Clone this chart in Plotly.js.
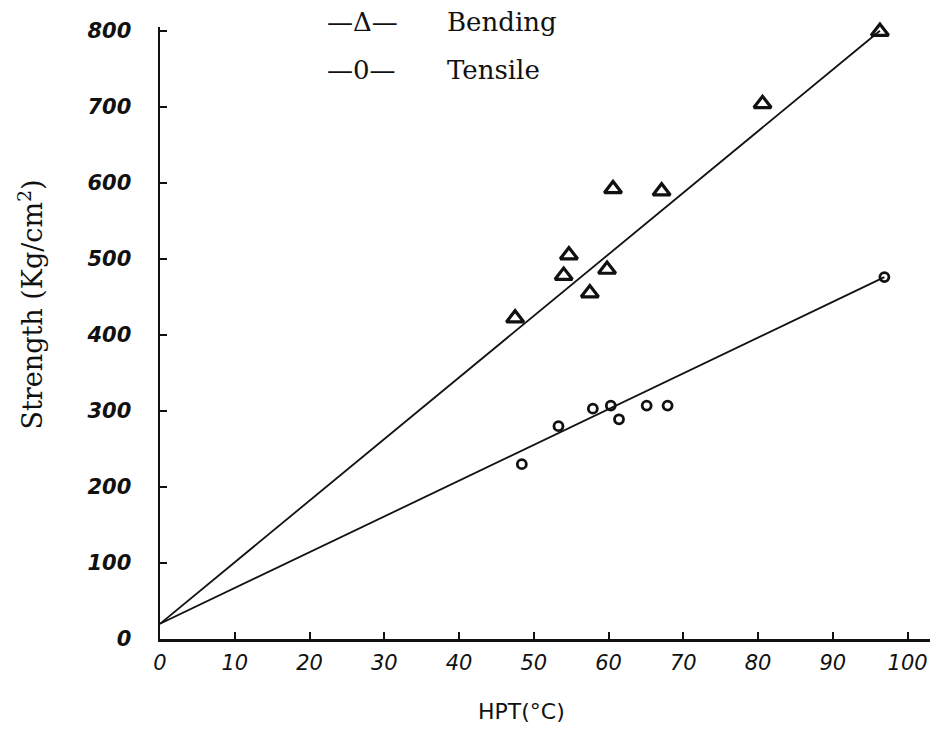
<!DOCTYPE html>
<html>
<head>
<meta charset="utf-8">
<script src="https://cdn.plot.ly/plotly-3.0.1.min.js"></script>
<style>html,body{margin:0;padding:0;background:#fff;}#chart{width:938px;height:729px;}</style>
</head>
<body>
<div id="chart"></div>
<script>
// Bending strength data (triangles)
const bendingX = [47.5, 54.0, 54.7, 57.5, 59.8, 60.6, 67.1, 80.6, 96.3];
const bendingY = [422, 478, 505, 455, 486, 592, 589, 704, 799];
// Tensile strength data (circles)
const tensileX = [48.4, 53.3, 57.9, 60.3, 61.4, 65.1, 67.9, 96.9];
const tensileY = [230, 280, 303, 307, 289, 307, 307, 476];
// Fitted lines
const bendingLineX = [0, 96.3];
const bendingLineY = [20, 800];
const tensileLineX = [0, 96.9];
const tensileLineY = [20, 476];
// Ticks
const xTicks = [0, 10, 20, 30, 40, 50, 60, 70, 80, 90, 100];
const yTicks = [0, 100, 200, 300, 400, 500, 600, 700, 800];

const traces = [
  {x: bendingLineX, y: bendingLineY, mode: 'lines', line: {color: '#111', width: 1.8}, showlegend: false, hoverinfo: 'skip'},
  {x: tensileLineX, y: tensileLineY, mode: 'lines', line: {color: '#111', width: 1.8}, showlegend: false, hoverinfo: 'skip'},
  {x: bendingX, y: bendingY, mode: 'markers', name: 'Bending', cliponaxis: false,
   marker: {symbol: 'triangle-up-open', size: 15, color: '#111', line: {width: 3.2, color: '#111'}}, showlegend: false},
  {x: tensileX, y: tensileY, mode: 'markers', name: 'Tensile', cliponaxis: false,
   marker: {symbol: 'circle-open', size: 9, color: '#111', line: {width: 2.8, color: '#111'}}, showlegend: false}
];

const layout = {
  width: 938, height: 729,
  margin: {l: 160, r: 8, t: 27, b: 90, pad: 0},
  paper_bgcolor: '#fff', plot_bgcolor: '#fff',
  showlegend: false,
  xaxis: {
    range: [0, 103], tickvals: xTicks, ticktext: xTicks.map(String),
    ticks: 'inside', ticklen: 7, tickwidth: 2, tickcolor: '#111',
    showline: true, linecolor: '#111', linewidth: 2.5,
    showgrid: false, zeroline: false,
    tickfont: {family: 'DejaVu Sans', size: 21, color: '#111', style: 'italic'},
    ticklabelstandoff: 3
  },
  yaxis: {
    range: [0, 805], tickvals: yTicks, ticktext: yTicks.map(String),
    ticks: 'inside', ticklen: 7, tickwidth: 2, tickcolor: '#111',
    showline: true, linecolor: '#111', linewidth: 2.5,
    showgrid: false, zeroline: false,
    tickfont: {family: 'DejaVu Sans', size: 21, color: '#111', style: 'italic', weight: 'bold'},
    ticklabelstandoff: 22
  },
  annotations: [
    {xref: 'paper', yref: 'paper', x: 0.214, y: 1.008, xanchor: 'left', yanchor: 'middle', showarrow: false,
     text: '—Δ—', font: {family: 'DejaVu Serif', size: 26, color: '#111'}},
    {xref: 'paper', yref: 'paper', x: 0.370, y: 1.008, xanchor: 'left', yanchor: 'middle', showarrow: false,
     text: 'Bending', font: {family: 'DejaVu Serif', size: 26, color: '#111'}},
    {xref: 'paper', yref: 'paper', x: 0.214, y: 0.93, xanchor: 'left', yanchor: 'middle', showarrow: false,
     text: '—0—', font: {family: 'DejaVu Serif', size: 26, color: '#111'}},
    {xref: 'paper', yref: 'paper', x: 0.370, y: 0.93, xanchor: 'left', yanchor: 'middle', showarrow: false,
     text: 'Tensile', font: {family: 'DejaVu Serif', size: 26, color: '#111'}},
    {xref: 'paper', yref: 'paper', x: -0.168, y: 0.546, xanchor: 'center', yanchor: 'middle', showarrow: false,
     textangle: -90, text: 'Strength (Kg/cm<sup>2</sup>)', font: {family: 'DejaVu Serif', size: 27, color: '#111'}},
    {xref: 'paper', yref: 'paper', x: 0.470, y: -0.119, xanchor: 'center', yanchor: 'middle', showarrow: false,
     text: 'HPT(°C)', font: {family: 'DejaVu Sans', size: 22, color: '#111'}}
  ]
};

Plotly.newPlot('chart', traces, layout, {displayModeBar: false, staticPlot: true});
</script>
</body>
</html>
